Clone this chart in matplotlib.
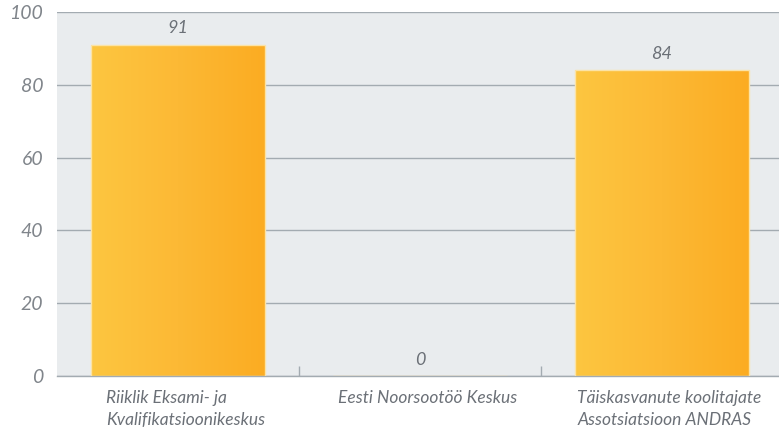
import matplotlib
matplotlib.use("Agg")
import matplotlib.pyplot as plt
import numpy as np

categories = ["Riiklik Eksami- ja\nKvalifikatsioonikeskus",
              "Eesti Noorsootöö Keskus",
              "Täiskasvanute koolitajate\nAssotsiatsioon ANDRAS"]
values = [91, 0, 84]
yticks = [0, 20, 40, 60, 80, 100]

text_col = "#6b7077"
tick_col = "#80858b"
grid_col = "#a3abb1"
bg_col = "#e9ecee"

plt.rcParams['font.family'] = ['Lato', 'DejaVu Sans']

fig = plt.figure(figsize=(7.79, 4.45), dpi=100)
ax = fig.add_axes([57 / 779, 1 - 376 / 445, 722 / 779, 364 / 445])
ax.set_facecolor(bg_col)

x = np.arange(len(values))
bars = ax.bar(x, values, width=0.715, color="none", edgecolor="#fbe3a6",
              linewidth=1.0, zorder=3)

# horizontal gradient fill, light yellow -> orange
grad = np.linspace(0, 1, 256).reshape(1, -1)
cmap = matplotlib.colors.LinearSegmentedColormap.from_list(
    "bar", ["#fdc640", "#fcb935", "#fbac22"])
for b in bars:
    if b.get_height() <= 0:
        continue
    x0, y0 = b.get_x(), b.get_y()
    im = ax.imshow(grad, cmap=cmap, aspect="auto", zorder=2,
                   extent=[x0, x0 + b.get_width(), y0, y0 + b.get_height()])
    im.set_clip_path(b)

for xi, v in zip(x, values):
    ax.text(xi, v + 2.3, str(v), ha="center", va="bottom", fontsize=13,
            style="italic", color=text_col, zorder=4)

ax.set_xlim(-0.5, -0.5 + 722 / 242)
ax.set_ylim(0, 100)
ax.set_yticks(yticks)
ax.set_yticklabels([str(t) for t in yticks], fontsize=14, style="italic",
                   color=tick_col)
ax.tick_params(axis="y", length=0, pad=10)
ax.yaxis.grid(True, color=grid_col, linewidth=1.0, zorder=1)
ax.set_axisbelow(True)

ax.set_xticks(x)
ax.set_xticklabels([])
ax.tick_params(axis="x", which="major", length=0)
ax.set_xticks([0.5, 1.5], minor=True)
ax.tick_params(axis="x", which="minor", direction="in", length=7,
               color=grid_col, width=1.0)

for xi, lab in zip(x, categories):
    ax.text(xi + 0.03, -3.8, lab, ha="center", va="top", multialignment="left",
            fontsize=12.5, style="italic", color=text_col, linespacing=1.45,
            transform=ax.transData, clip_on=False)

for s in ["top", "right", "left"]:
    ax.spines[s].set_visible(False)
ax.spines["bottom"].set_color(grid_col)
ax.spines["bottom"].set_linewidth(1.0)

fig.savefig("out.png", dpi=100)
